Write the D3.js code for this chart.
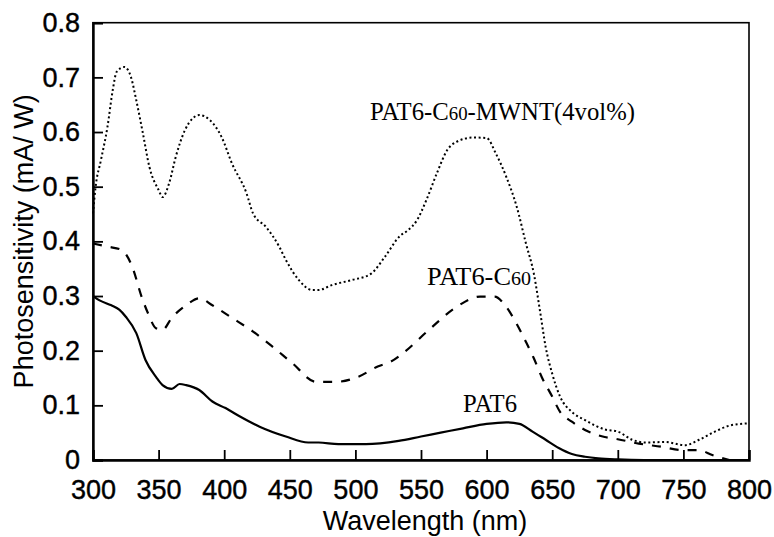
<!DOCTYPE html>
<html>
<head>
<meta charset="utf-8">
<script src="https://cdn.jsdelivr.net/npm/d3@7"></script>
<style>
  body { margin: 0; background: #fff; }
  .tick text { font-family: "Liberation Sans", Arial, sans-serif; }
</style>
</head>
<body>
<div id="chart"></div>
<script>
// PAT6 (solid)
var pat6Wl = [300,305,314,320,325,333,340,348,353,360,366,371,381,391,401,411,427,447,464,472,487,508,533,550,565,582,600,615,625,635,645,655,665,675,685,700,720,750,780,800];
var pat6Val = [0.300,0.292,0.283,0.275,0.262,0.232,0.183,0.152,0.137,0.130,0.139,0.137,0.128,0.107,0.095,0.081,0.061,0.043,0.032,0.032,0.029,0.029,0.035,0.043,0.050,0.058,0.066,0.069,0.066,0.052,0.037,0.022,0.011,0.006,0.003,0.001,0,0,0,0];

// PAT6-C60 (dashed)
var c60Wl = [300,312,322,330,337,342,348,353,360,371,381,391,406,422,437,452,470,485,502,517,527,536,556,577,595,606,615,622,630,636,642,650,656,665,675,690,700,716,734,749,762,772,785];
var c60Val = [0.396,0.390,0.384,0.353,0.299,0.268,0.241,0.238,0.260,0.283,0.296,0.283,0.260,0.235,0.207,0.177,0.143,0.143,0.152,0.171,0.180,0.195,0.238,0.280,0.299,0.299,0.280,0.253,0.216,0.186,0.152,0.116,0.088,0.070,0.055,0.042,0.038,0.030,0.024,0.018,0.018,0.009,0];

// PAT6-C60-MWNT 4vol% (dotted)
var mwntWl = [300,302,306,311,315,318,324,329,333,338,343,350,353,358,363,370,376,381,389,398,406,417,422,432,442,447,457,467,472,482,497,512,522,534,540,547,554,562,570,577,590,600,607,615,623,630,636,641,645,650,656,665,675,690,700,711,721,736,751,762,774,787,800];
var mwntVal = [0.451,0.500,0.548,0.609,0.676,0.710,0.719,0.700,0.658,0.598,0.536,0.494,0.481,0.506,0.554,0.603,0.625,0.631,0.622,0.591,0.542,0.488,0.451,0.426,0.390,0.366,0.329,0.311,0.311,0.320,0.329,0.341,0.370,0.410,0.420,0.439,0.475,0.524,0.567,0.582,0.590,0.589,0.561,0.518,0.463,0.396,0.341,0.268,0.207,0.158,0.116,0.088,0.073,0.056,0.052,0.037,0.032,0.033,0.027,0.037,0.052,0.064,0.067];

var xTicks = [300,350,400,450,500,550,600,650,700,750,800];
var yTicks = [0,0.1,0.2,0.3,0.4,0.5,0.6,0.7,0.8];

var svgWidth = 774;
var svgHeight = 537;
var margin = { top: 22.7, right: 25, bottom: 77, left: 93 };
var width = svgWidth - margin.left - margin.right;
var height = svgHeight - margin.top - margin.bottom;

var svg = d3.select("#chart")
  .append("svg")
  .attr("width", svgWidth)
  .attr("height", svgHeight);

var chartGroup = svg.append("g")
  .attr("transform", `translate(${margin.left}, ${margin.top})`);

var xScale = d3.scaleLinear().domain([300, 800]).range([0, width]);
var yScale = d3.scaleLinear().domain([0, 0.8]).range([height, 0]);

// frame
chartGroup.append("rect")
  .attr("width", width)
  .attr("height", height)
  .attr("fill", "none")
  .attr("stroke", "#000")
  .attr("stroke-width", 1.6);

// axes with inward ticks
var bottomAxis = d3.axisBottom(xScale)
  .tickValues(xTicks)
  .tickSize(-10)
  .tickPadding(20)
  .tickFormat(d3.format("d"));
var leftAxis = d3.axisLeft(yScale)
  .tickValues(yTicks)
  .tickSize(-10)
  .tickPadding(13)
  .tickFormat(d => d === 0 ? "0" : d3.format(".1f")(d));

var xAxisG = chartGroup.append("g")
  .attr("transform", `translate(0, ${height})`)
  .call(bottomAxis);
var yAxisG = chartGroup.append("g")
  .call(leftAxis);

[xAxisG, yAxisG].forEach(function(g) {
  g.select(".domain").attr("stroke-width", 2.4);
  g.selectAll(".tick line").attr("stroke-width", 1.8);
  g.selectAll(".tick text")
    .attr("font-size", 27)
    .attr("fill", "#000")
    .attr("stroke", "#000")
    .attr("stroke-width", 0.4);
});
xAxisG.selectAll(".tick text").attr("dy", "0.72em");

// lines
var line = d3.line()
  .x(d => xScale(d[0]))
  .y(d => yScale(d[1]))
  .curve(d3.curveMonotoneX);

function pairs(wl, val) {
  return wl.map((w, i) => [w, val[i]]);
}

chartGroup.append("path")
  .datum(pairs(pat6Wl, pat6Val))
  .attr("d", line)
  .attr("fill", "none")
  .attr("stroke", "#000")
  .attr("stroke-width", 2.2);

chartGroup.append("path")
  .datum(pairs(c60Wl, c60Val))
  .attr("d", line)
  .attr("fill", "none")
  .attr("stroke", "#000")
  .attr("stroke-width", 2.2)
  .attr("stroke-dasharray", "9,9");

chartGroup.append("path")
  .datum(pairs(mwntWl, mwntVal))
  .attr("d", line)
  .attr("fill", "none")
  .attr("stroke", "#000")
  .attr("stroke-width", 2)
  .attr("stroke-dasharray", "2,2.6");

// series labels
var serif = "'Liberation Serif', 'Times New Roman', serif";
function seriesLabel(x, y, parts, len) {
  var t = svg.append("text")
    .attr("x", x)
    .attr("y", y)
    .attr("font-family", serif)
    .attr("font-size", 25)
    .attr("fill", "#000")
    .attr("textLength", len)
    .attr("lengthAdjust", "spacingAndGlyphs");
  parts.forEach(function(p) {
    t.append("tspan")
      .attr("font-size", p[1] ? 19 : 25)
      .text(p[0]);
  });
}
seriesLabel(370, 120, [["PAT6-C", false], ["60", true], ["-MWNT(4vol%)", false]], 265);
seriesLabel(427, 285, [["PAT6-C", false], ["60", true]], 104);
seriesLabel(463, 412, [["PAT6", false]], 54);

// axis titles
svg.append("text")
  .attr("x", margin.left + width / 2 + 4)
  .attr("y", 530)
  .attr("text-anchor", "middle")
  .attr("font-family", "'Liberation Sans', Arial, sans-serif")
  .attr("font-size", 27)
  .text("Wavelength (nm)");

svg.append("text")
  .attr("transform", `translate(33, ${margin.top + height / 2}) rotate(-90)`)
  .attr("text-anchor", "middle")
  .attr("font-family", "'Liberation Sans', Arial, sans-serif")
  .attr("font-size", 27)
  .text("Photosensitivity (mA/ W)");
</script>
</body>
</html>
